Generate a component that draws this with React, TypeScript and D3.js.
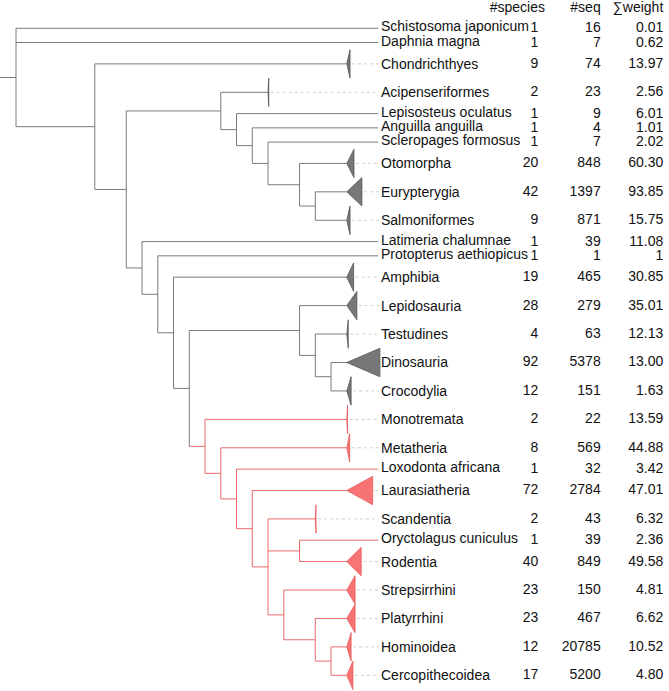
import React from "react";
import * as d3 from "d3";

// Tree topology with branch lengths (in depth steps); internal node "Mammalia" marks the red clade
const NEWICK =
  "(Schistosoma japonicum:23,Daphnia magna:23,(Chondrichthyes:16,((Acipenseriformes:3,(Lepisosteus oculatus:9,(Anguilla anguilla:8,(Scleropages formosus:7,(Otomorpha:3,(Eurypterygia:2,Salmoniformes:2):1):2):1):1):1):6,(Latimeria chalumnae:15,(Protopterus aethiopicus:14,(Amphibia:11,((Lepidosauria:3,(Testudines:2,(Dinosauria:1,Crocodylia:1):1):1):7,(Monotremata:9,(Metatheria:8,(Loxodonta africana:9,(Laurasiatheria:6,(Scandentia:3,(Oryctolagus cuniculus:5,Rodentia:3):2,(Strepsirrhini:4,(Platyrrhini:2,(Hominoidea:1,Cercopithecoidea:1):1):2):1):1):1):1):1)Mammalia:1):1):1):1):1):2):5);";

const taxa = [
  "Schistosoma japonicum", "Daphnia magna", "Chondrichthyes", "Acipenseriformes",
  "Lepisosteus oculatus", "Anguilla anguilla", "Scleropages formosus", "Otomorpha",
  "Eurypterygia", "Salmoniformes", "Latimeria chalumnae", "Protopterus aethiopicus",
  "Amphibia", "Lepidosauria", "Testudines", "Dinosauria", "Crocodylia", "Monotremata",
  "Metatheria", "Loxodonta africana", "Laurasiatheria", "Scandentia",
  "Oryctolagus cuniculus", "Rodentia", "Strepsirrhini", "Platyrrhini", "Hominoidea",
  "Cercopithecoidea",
];
const speciesCounts = [1, 1, 9, 2, 1, 1, 1, 20, 42, 9, 1, 1, 19, 28, 4, 92, 12, 2, 8, 1, 72, 2, 1, 40, 23, 23, 12, 17];
const seqCounts = [16, 7, 74, 23, 9, 4, 7, 848, 1397, 871, 39, 1, 465, 279, 63, 5378, 151, 22, 569, 32, 2784, 43, 39, 849, 150, 467, 20785, 5200];
const weights = [
  "0.01", "0.62", "13.97", "2.56", "6.01", "1.01", "2.02", "60.30", "93.85", "15.75",
  "11.08", "1", "30.85", "35.01", "12.13", "13.00", "1.63", "13.59", "44.88", "3.42",
  "47.01", "6.32", "2.36", "49.58", "4.81", "6.62", "10.52", "4.80",
];
const headers = ["#species", "#seq", "\u2211weight"];

function parseNewick(a: string) {
  const ancestors: any[] = [];
  let tree: any = {};
  const tokens = a.split(/\s*(;|\(|\)|,|:)\s*/);
  for (let i = 0; i < tokens.length; i++) {
    const token = tokens[i];
    switch (token) {
      case "(": {
        const sub: any = {};
        tree.children = [sub];
        ancestors.push(tree);
        tree = sub;
        break;
      }
      case ",": {
        const sub: any = {};
        ancestors[ancestors.length - 1].children.push(sub);
        tree = sub;
        break;
      }
      case ")":
        tree = ancestors.pop();
        break;
      case ":":
      case ";":
        break;
      default: {
        const prev = tokens[i - 1];
        if (prev === ")" || prev === "(" || prev === ",") tree.name = token;
        else if (prev === ":") tree.length = parseFloat(token);
      }
    }
  }
  return tree;
}

const W = 669;
const H = 691;
const FONT = "'Liberation Sans', Arial, sans-serif";
const GRAY_LINE = "#7a7a7a";
const RED_LINE = "#ea6a6a";
const GRAY_FILL = "#777777";
const GRAY_STROKE = "#555555";
const RED_FILL = "#f87474";
const RED_STROKE = "#e65a5a";

export default function App() {
  const root: any = d3.hierarchy(parseNewick(NEWICK));

  // depth positions
  root.each((n: any) => {
    n.xu = n.parent ? n.parent.xu + (n.data.length || 0) : 0;
  });
  // red clade
  root.each((n: any) => {
    n.red = n.data.name === "Mammalia" || (n.parent && n.parent.red);
  });

  const leaves = root.leaves();
  let cum = 0;
  leaves.forEach((l: any) => {
    const i = taxa.indexOf(l.data.name);
    l.idx = i;
    l.clade = speciesCounts[i] > 1;
    const h = l.clade ? 2 : 1;
    l.yu = cum + h / 2;
    cum += h;
  });
  root.eachAfter((n: any) => {
    if (n.children) {
      n.yu = (n.children[0].yu + n.children[n.children.length - 1].yu) / 2;
    }
  });

  const x = d3.scaleLinear().domain([0, 23]).range([16, 378.3]);
  const y = d3.scaleLinear().domain([0, cum]).range([21.2, 21.2 + cum * 14.22]);
  const triW = d3.scaleLinear().domain([0, 92]).range([0, 33.1]);
  const unitH = y(2) - y(0);

  const colSpecies = 538.3;
  const colSeq = 600.7;
  const colWeight = 663.3;
  const labelX = 381;

  const lines: React.ReactNode[] = [];
  // root stub
  lines.push(
    <line key="stub" x1={0} x2={x(root.xu)} y1={y(root.yu)} y2={y(root.yu)} stroke={GRAY_LINE} strokeWidth={1} />
  );
  root.descendants().forEach((n: any, k: number) => {
    if (n.children) {
      const c0 = n.children[0];
      const c1 = n.children[n.children.length - 1];
      lines.push(
        <line key={"v" + k} x1={x(n.xu)} x2={x(n.xu)} y1={y(c0.yu)} y2={y(c1.yu)}
          stroke={n.red ? RED_LINE : GRAY_LINE} strokeWidth={1} />
      );
    }
    if (n.parent) {
      lines.push(
        <line key={"h" + k} x1={x(n.parent.xu)} x2={x(n.xu)} y1={y(n.yu)} y2={y(n.yu)}
          stroke={n.red ? RED_LINE : GRAY_LINE} strokeWidth={1} />
      );
    }
  });

  const marks: React.ReactNode[] = [];
  const texts: React.ReactNode[] = [];
  leaves.forEach((l: any, k: number) => {
    const i = l.idx;
    const cy = y(l.yu);
    if (l.clade) {
      const ax = x(l.xu);
      const w = Math.max(triW(speciesCounts[i]), 0.6);
      const hh = unitH / 2;
      const path = d3.path();
      path.moveTo(ax, cy);
      path.lineTo(ax + w, cy - hh);
      path.lineTo(ax + w, cy + hh);
      path.closePath();
      if (ax + w < labelX - 2) {
        marks.push(
          <line key={"d" + k} x1={ax + w + 2} x2={labelX - 2} y1={cy} y2={cy}
            stroke="#cfcfcf" strokeWidth={1} strokeDasharray="3,3" />
        );
      }
      marks.push(
        <path key={"t" + k} d={path.toString()}
          fill={l.red ? RED_FILL : GRAY_FILL}
          stroke={l.red ? RED_STROKE : GRAY_STROKE} strokeWidth={0.8} strokeLinejoin="miter" />
      );
    }
    const dy = l.clade ? 0 : -2;
    texts.push(
      <text key={"l" + k} x={labelX} y={cy + dy} dominantBaseline="central" fontSize={14} fill="#111">
        {taxa[i]}
      </text>
    );
    texts.push(
      <text key={"s" + k} x={colSpecies} y={cy - 1} dominantBaseline="central" textAnchor="end" fontSize={14} fill="#111">
        {speciesCounts[i]}
      </text>
    );
    texts.push(
      <text key={"q" + k} x={colSeq} y={cy - 1} dominantBaseline="central" textAnchor="end" fontSize={14} fill="#111">
        {seqCounts[i]}
      </text>
    );
    texts.push(
      <text key={"w" + k} x={colWeight} y={cy - 1} dominantBaseline="central" textAnchor="end" fontSize={14} fill="#111">
        {weights[i]}
      </text>
    );
  });

  const headerX = [545, colSeq, colWeight];

  return (
    <svg width={W} height={H} style={{ position: "absolute", left: 0, top: 0, background: "#fff" }}
      fontFamily={FONT}>
      <g>{lines}</g>
      <g>{marks}</g>
      <g>{texts}</g>
      <g>
        {headers.map((h, i) => (
          <text key={h} x={headerX[i]} y={12} textAnchor="end" fontSize={14} fill="#111">
            {h}
          </text>
        ))}
      </g>
    </svg>
  );
}
